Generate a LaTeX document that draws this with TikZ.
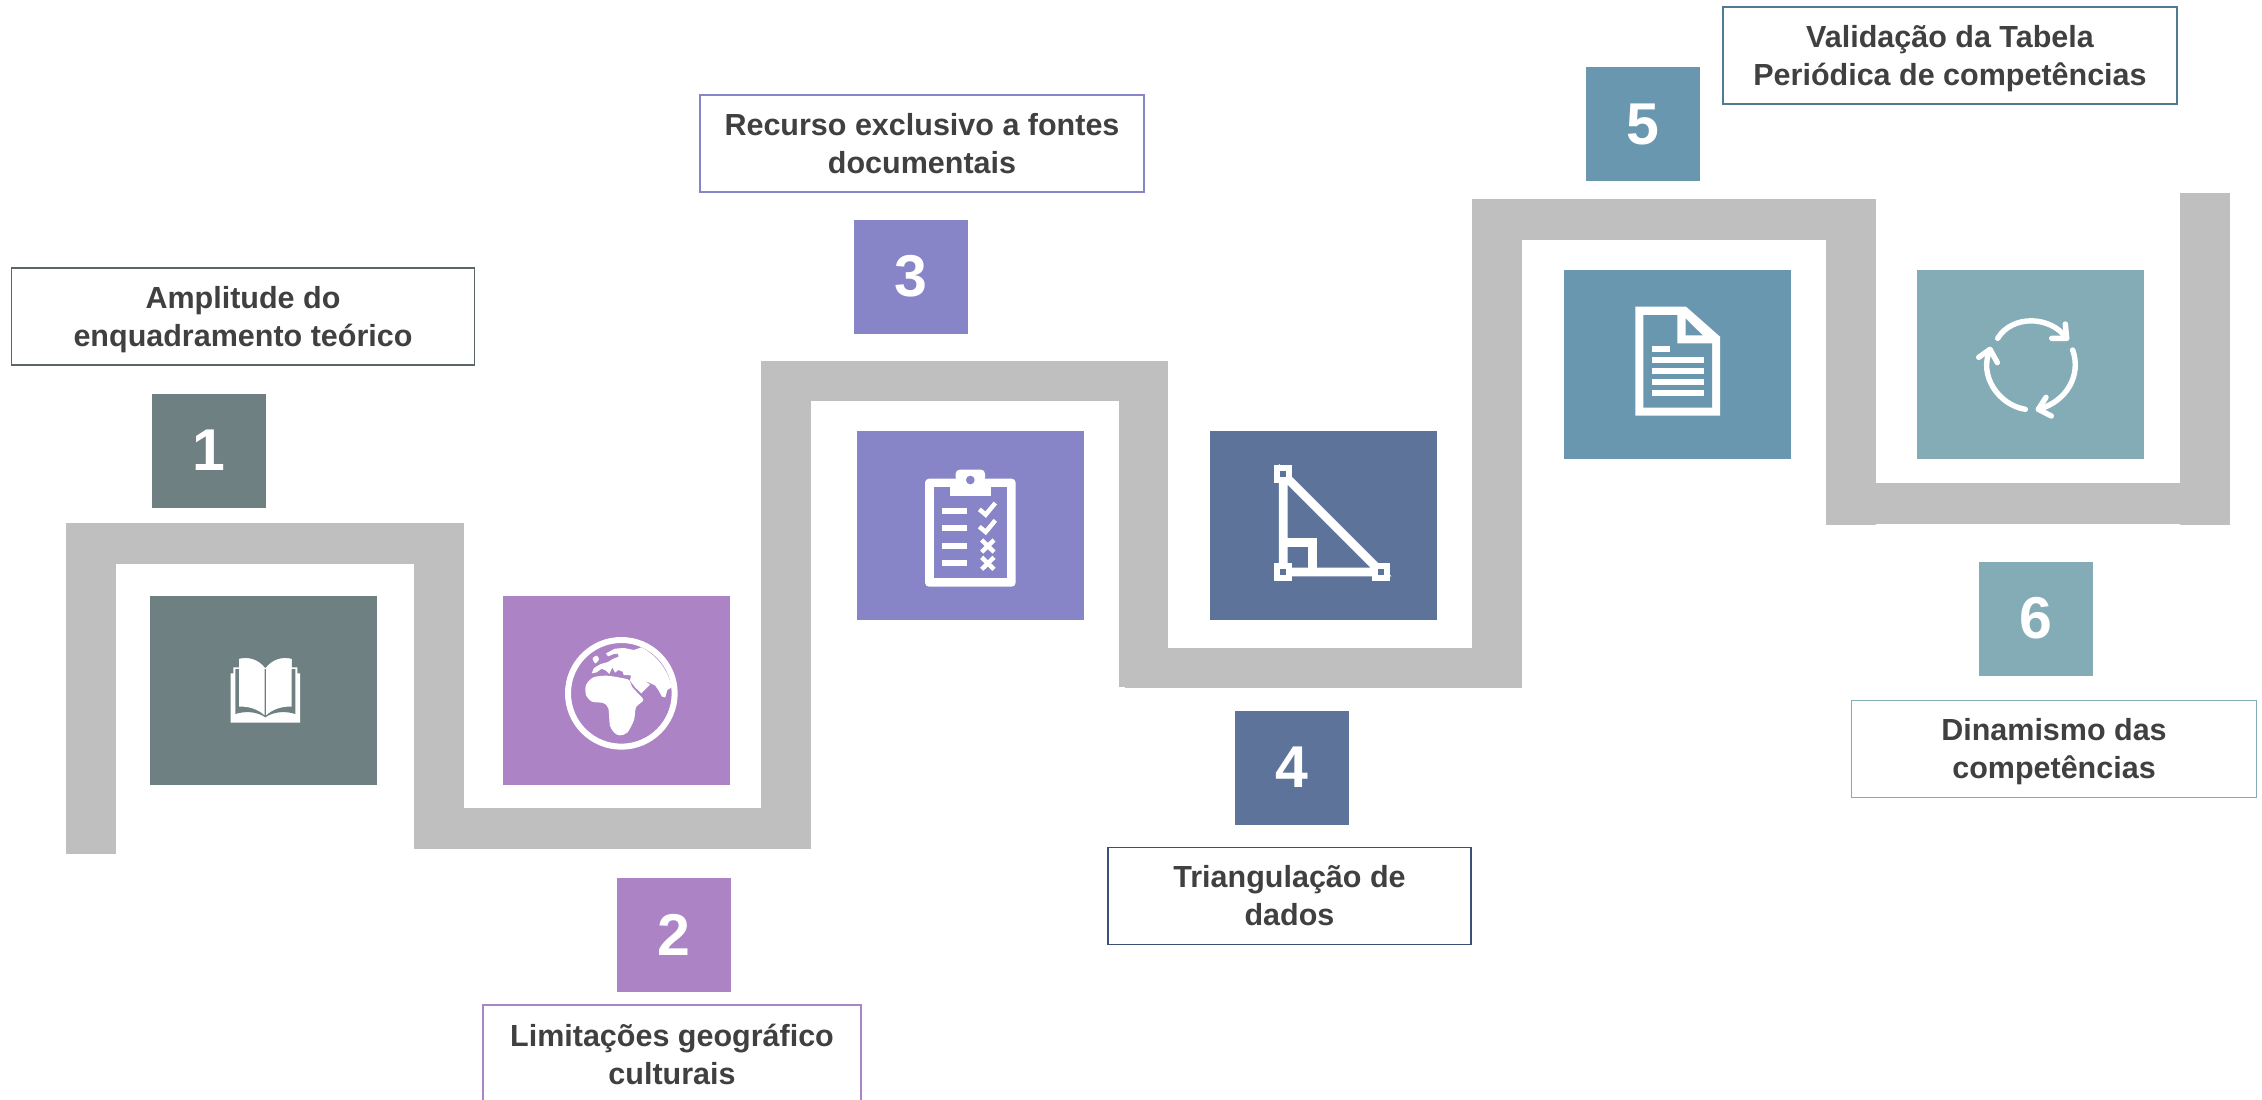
\documentclass[tikz,border=0pt]{standalone}
\usepackage{fontspec}
\setmainfont{Liberation Sans}
\definecolor{bar}{HTML}{BFBFBF}
\definecolor{txt}{HTML}{404040}
\definecolor{cA}{HTML}{6F8083}
\definecolor{cB}{HTML}{AC83C4}
\definecolor{cC}{HTML}{8784C7}
\definecolor{cD}{HTML}{5D739A}
\definecolor{cE}{HTML}{6997AF}
\definecolor{cF}{HTML}{84ACB6}
\definecolor{bA}{HTML}{596769}
\definecolor{bD}{HTML}{3E4F75}
\definecolor{bE}{HTML}{4E7A92}
\newcommand{\topgap}[1]{\rule{0pt}{#1}}
\tikzset{
  x=1pt,y=-1pt,
  barpart/.style={fill=bar,draw=none},
  numbox/.style={draw=none,minimum width=114pt,minimum height=114pt,inner sep=0pt,text=white,font=\bfseries\fontsize{59}{59}\selectfont},
  iconbox/.style={draw=none,minimum width=227pt,minimum height=189pt,inner sep=0pt},
  labelbox/.style={draw,line width=1.7pt,fill=white,inner sep=0pt,text=txt,align=center,font=\bfseries\fontsize{30.5}{38}\selectfont},
  glyph/.style={fill=white,draw=none},
  glyphline/.style={draw=white,line width=5.4pt,line cap=round,line join=round},
}
\begin{document}
\begin{tikzpicture}
\path[use as bounding box,fill=white] (0,0) rectangle (2262,1100);
% stepped band
\fill[barpart] (66,523) rectangle (116,854);
\fill[barpart] (66,523) rectangle (464,564);
\fill[barpart] (414,523) rectangle (464,849);
\fill[barpart] (414,808) rectangle (811,849);
\fill[barpart] (761,361) rectangle (811,849);
\fill[barpart] (761,361) rectangle (1168,401);
\fill[barpart] (1119,361) rectangle (1168,687);
\fill[barpart] (1125,648) rectangle (1522,688);
\fill[barpart] (1472,199) rectangle (1522,688);
\fill[barpart] (1472,199) rectangle (1876,240);
\fill[barpart] (1826,199) rectangle (1876,525);
\fill[barpart] (1826,483) rectangle (2230,524);
\fill[barpart] (2180,193) rectangle (2230,525);
% icon squares
\node[iconbox,fill=cA] (icon1) at (263.5,690.5) {};
\node[iconbox,fill=cB] (icon2) at (616.5,690.5) {};
\node[iconbox,fill=cC] (icon3) at (970.5,525.5) {};
\node[iconbox,fill=cD] (icon4) at (1323.5,525.5) {};
\node[iconbox,fill=cE] (icon5) at (1677.5,364.5) {};
\node[iconbox,fill=cF] (icon6) at (2030.5,364.5) {};
% number squares
\node[numbox,fill=cA] (num1) at (209,450.5) {1};
\node[numbox,fill=cB] (num2) at (674,934.5) {2};
\node[numbox,fill=cC] (num3) at (911,276.5) {3};
\node[numbox,fill=cD] (num4) at (1292,767.5) {4};
\node[numbox,fill=cE] (num5) at (1642.5,124) {5};
\node[numbox,fill=cF] (num6) at (2036,618.5) {6};
% labels
\node[labelbox,draw=bA,minimum width=463pt,minimum height=97pt] (lab1) at (243,316.5) {\topgap{28pt}Amplitude do\\enquadramento teórico};
\node[labelbox,draw=cB,minimum width=378pt,minimum height=98pt] (lab2) at (672,1054) {Limitações geográfico\\culturais};
\node[labelbox,draw=cC,minimum width=444pt,minimum height=97pt] (lab3) at (922,143.5) {Recurso exclusivo a fontes\\documentais};
\node[labelbox,draw=bD,minimum width=363pt,minimum height=97pt] (lab4) at (1289.5,896) {Triangulação de\\dados};
\node[labelbox,draw=bE,minimum width=454pt,minimum height=97pt] (lab5) at (1950,55.5) {\topgap{28pt}Validação da Tabela\\Periódica de competências};
\node[labelbox,draw=cF,minimum width=405pt,minimum height=97pt] (lab6) at (2054,749) {\topgap{28pt}Dinamismo das\\competências};
% book icon
\begin{scope}[shift={(190,590)},scale=0.33333]
\fill[glyph] (122,250)--(130,250)--(130,232)--(147,232)--(147,207) .. controls (175,200) and (205,208) .. (226,235) .. controls (247,208) and (277,200) .. (305,207)--(305,232)--(322,232)--(322,250)--(330,250)--(330,398)--(122,398)--cycle;
\fill[cA] (136,237)--(316,237)--(316,372) .. controls (285,362) and (250,365) .. (226,382) .. controls (202,365) and (167,362) .. (136,372)--cycle;
\fill[glyph] (147,207) .. controls (175,200) and (205,208) .. (224,235)--(224,376) .. controls (205,358) and (175,348) .. (147,350)--cycle;
\fill[glyph] (305,207) .. controls (277,200) and (247,208) .. (228,235)--(228,376) .. controls (247,358) and (277,348) .. (305,350)--cycle;
\end{scope}
% globe icon
\begin{scope}[shift={(480,560)},scale=0.33333]
\draw[white,line width=6pt] (424,400) circle (160);
\fill[glyph] plot[smooth cycle,tension=0.5] coordinates {(338,295)(350,287)(357,298)(346,310)};
\fill[glyph] (484,262) -- (462,270) -- (432,264) -- (405,266) -- (378,280) -- (384,289) -- (402,282) -- (414,281) -- (416,290) -- (396,298) -- (384,306) -- (362,312) -- (342,324) -- (335,340) -- (350,337) -- (365,326) -- (378,332) -- (388,342) -- (397,322) -- (405,338) -- (415,330) -- (428,335) -- (431,345) -- (453,346) -- (450,362) -- (465,382) -- (484,400) -- (494,390) -- (510,374) -- (494,362) -- (525,376) -- (535,390) -- (546,410) -- (556,412) -- (562,390) -- (575,382) .. controls (565,330) and (530,285) .. (484,262) -- cycle;
\fill[glyph] plot[smooth cycle,tension=0.45] coordinates {(340,352)(380,347)(420,353)(447,360)(456,380)(472,398)(490,420)(468,442)(462,480)(442,518)(420,526)(405,520)(390,498)(385,445)(370,429)(336,425)(318,405)(318,375)};
\end{scope}
% clipboard icon
\begin{scope}[shift={(840,420)},scale=0.33333]
\fill[glyph,rounded corners=4pt] (255,176) rectangle (527,500);
\fill[cC] (281,202) rectangle (501,474);
\fill[glyph,rounded corners=4pt] (347,185)--(347,149)--(435,149)--(435,185)--cycle;
\fill[glyph] (330,190) rectangle (452,228);
\fill[cC] (391,180) circle (13);
\fill[glyph] (306,264) rectangle (381,282);
\fill[glyph] (306,316) rectangle (381,333);
\fill[glyph] (306,369) rectangle (381,386);
\fill[glyph] (306,420) rectangle (381,438);
\draw[white,line width=4.5pt] (418,268)--(437,284)--(466,249);
\draw[white,line width=4.5pt] (418,320)--(437,336)--(466,301);
\draw[white,line width=4.5pt] (425,360)--(462,396) (462,360)--(425,396);
\draw[white,line width=4.5pt] (425,412)--(462,448) (462,412)--(425,448);
\end{scope}
% triangle icon
\begin{scope}[shift={(1200,420)},scale=0.33333]
\draw[white,line width=8.7pt] (250,163)--(250,456)--(543,456)--cycle;
\draw[white,line width=8.7pt] (250,367.5)--(338.5,367.5)--(338.5,456);
\fill[glyph] (223,136) rectangle (276,189);
\fill[glyph] (223,430) rectangle (276,483);
\fill[glyph] (517,430) rectangle (570,483);
\fill[cD] (241,154) rectangle (259,172);
\fill[cD] (241,448) rectangle (259,466);
\fill[cD] (535,448) rectangle (553,466);
\end{scope}
% document icon
\begin{scope}[shift={(1560,260)},scale=0.33333]
\fill[glyph] (226,140)--(378,140)--(480,230)--(480,467)--(226,467)--cycle;
\fill[cE] (250,165)--(352,165)--(352,250)--(456,250)--(456,443)--(250,443)--cycle;
\fill[cE] (377,176)--(377,226)--(428,226)--cycle;
\fill[glyph] (276,258) rectangle (330,275);
\fill[glyph] (276,291) rectangle (431,309);
\fill[glyph] (276,324) rectangle (431,342);
\fill[glyph] (276,357) rectangle (432,375);
\fill[glyph] (276,390) rectangle (432,408);
\end{scope}
% cycle icon
\begin{scope}[shift={(1910,260)},scale=0.33333]
\draw[glyphline] (263,235) .. controls (305,165) and (420,165) .. (470,235);
\draw[glyphline] (466,192)--(470,235)--(425,235);
\draw[glyphline] (488,270) .. controls (515,345) and (470,425) .. (385,448);
\draw[glyphline] (408,412)--(385,448)--(424,468);
\draw[glyphline] (346,448) .. controls (265,435) and (205,345) .. (240,270);
\draw[glyphline] (206,292)--(240,268)--(262,308);
\end{scope}
\end{tikzpicture}
\end{document}
